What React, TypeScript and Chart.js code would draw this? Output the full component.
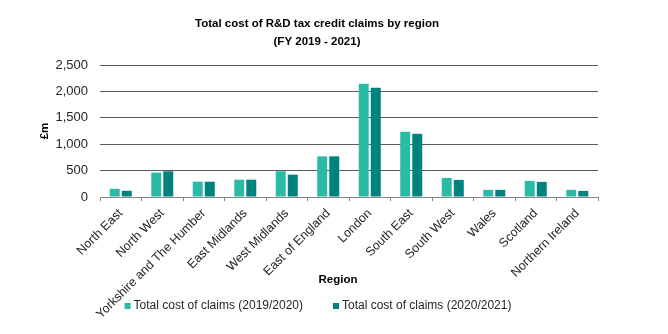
import React, { useEffect, useRef } from "react";
import { Chart, registerables } from "chart.js";

Chart.register(...registerables);

const categories = [
  "North East",
  "North West",
  "Yorkshire and The Humber",
  "East Midlands",
  "West Midlands",
  "East of England",
  "London",
  "South East",
  "South West",
  "Wales",
  "Scotland",
  "Northern Ireland",
];
const claims2019 = [155, 462, 290, 328, 488, 770, 2145, 1235, 362, 135, 305, 135];
const claims2020 = [118, 487, 290, 328, 424, 770, 2070, 1197, 324, 135, 287, 116];
const seriesLabels = ["Total cost of claims (2019/2020)", "Total cost of claims (2020/2021)"];
const seriesColors = ["#2bbaa5", "#00827f"];
const titleLines = ["Total cost of R&D tax credit claims by region", "(FY 2019 - 2021)"];
const yTitle = "£m";
const xTitle = "Region";

const SANS = "'Liberation Sans', Arial, sans-serif";

const overlayPlugin = {
  id: "overlay",
  afterDraw(chart: any) {
    const ctx = chart.ctx as CanvasRenderingContext2D;
    const area = chart.chartArea;
    ctx.save();
    // Title
    ctx.fillStyle = "#000000";
    ctx.font = `bold 11.5px ${SANS}`;
    ctx.textAlign = "center";
    ctx.textBaseline = "middle";
    ctx.fillText(titleLines[0], 317, 24);
    ctx.fillText(titleLines[1], 317, 42);
    // Y title
    ctx.save();
    ctx.translate(45, (area.top + area.bottom) / 2);
    ctx.rotate(-Math.PI / 2);
    ctx.font = `bold 11.5px ${SANS}`;
    ctx.fillText(yTitle, 0, 0);
    ctx.restore();
    // X title
    ctx.font = `bold 11.5px ${SANS}`;
    ctx.fillText(xTitle, 338, 280);
    // Legend
    ctx.font = `12px ${SANS}`;
    const box = 6;
    const gapBox = 3;
    const gapItem = 30;
    const widths = seriesLabels.map((t) => ctx.measureText(t).width);
    const total = widths.reduce((a, w) => a + box + gapBox + w, 0) + gapItem;
    let x = 318 - total / 2;
    const ly = 306;
    ctx.textAlign = "left";
    seriesLabels.forEach((t, i) => {
      ctx.fillStyle = seriesColors[i];
      ctx.fillRect(x, ly - 3, box, box);
      ctx.fillStyle = "#262626";
      ctx.fillText(t, x + box + gapBox, ly);
      x += box + gapBox + widths[i] + gapItem;
    });
    ctx.restore();
  },
};

export default function App() {
  const ref = useRef<HTMLCanvasElement | null>(null);
  useEffect(() => {
    document.body.style.margin = "0";
    const canvas = ref.current!;
    const chart = new Chart(canvas, {
      type: "bar",
      data: {
        labels: categories,
        datasets: [
          {
            label: seriesLabels[0],
            data: claims2019,
            backgroundColor: seriesColors[0],
            barPercentage: 0.83,
            categoryPercentage: 0.58,
          },
          {
            label: seriesLabels[1],
            data: claims2020,
            backgroundColor: seriesColors[1],
            barPercentage: 0.83,
            categoryPercentage: 0.58,
          },
        ],
      },
      options: {
        responsive: false,
        animation: false,
        devicePixelRatio: 1,
        layout: { padding: { top: 65, left: 36, right: 70, bottom: 0 } },
        plugins: {
          legend: { display: false },
          title: { display: false },
          tooltip: { enabled: false },
        },
        scales: {
          x: {
            afterFit(scale: any) {
              scale.height = 137;
            },
            grid: {
              display: true,
              offset: true,
              drawOnChartArea: false,
              drawTicks: true,
              tickLength: 4,
              color: "#868686",
            },
            border: { display: true, color: "#868686", width: 1 },
            ticks: {
              autoSkip: false,
              minRotation: 45,
              maxRotation: 45,
              padding: 5,
              color: "#262626",
              font: { family: SANS, size: 12.5 },
            },
          },
          y: {
            min: 0,
            max: 2500,
            afterFit(scale: any) {
              scale.width = 64;
            },
            grid: {
              color: "#5a5a5a",
              drawTicks: false,
              lineWidth: 1,
            },
            border: { display: false },
            ticks: {
              stepSize: 500,
              padding: 12,
              color: "#262626",
              font: { family: SANS, size: 13 },
            },
          },
        },
      },
      plugins: [overlayPlugin],
    });
    return () => chart.destroy();
  }, []);
  return (
    <div style={{ position: "relative", width: 668, height: 334 }}>
      <canvas ref={ref} width={668} height={334} style={{ display: "block" }} />
    </div>
  );
}
